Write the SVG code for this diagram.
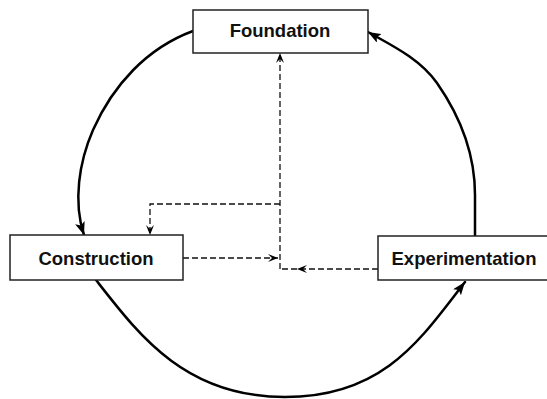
<svg xmlns="http://www.w3.org/2000/svg" width="547" height="399" viewBox="0 0 547 399">
  <style>
    .box { fill: #ffffff; stroke: #222222; stroke-width: 1.5; }
    .label { font-family: "Liberation Sans", Arial, sans-serif; font-weight: bold; font-size: 18.5px; fill: #111111; text-anchor: middle; }
    .cycle { fill: none; stroke: #000000; stroke-width: 2.5; stroke-linecap: round; }
    .dash { fill: none; stroke: #111111; stroke-width: 1.3; stroke-dasharray: 6 3; }
  </style>
  <defs>
    <marker id="solidArrow" markerUnits="userSpaceOnUse" markerWidth="14" markerHeight="10" refX="13" refY="5" orient="auto">
      <path d="M0,0 L13,5 L0,10 L3,5 z" fill="#000000"/>
    </marker>
    <marker id="dashArrow" markerUnits="userSpaceOnUse" markerWidth="11" markerHeight="9" refX="10" refY="4.5" orient="auto">
      <path d="M0,0.5 L10,4.5 L0,8.5 L4,4.5 z" fill="#000000"/>
    </marker>
  </defs>

  <g id="connectors">
    <!-- Foundation -> Construction -->
    <path class="cycle" marker-end="url(#solidArrow)" d="M193,31 C147,48 113,85 93,130 C79,162 73,202 84,235"/>
    <!-- Construction -> Experimentation -->
    <path class="cycle" marker-end="url(#solidArrow)" d="M96,280 C139,335 185,397 285,397 C385,397 422,337 465,282"/>
    <!-- Experimentation -> Foundation -->
    <path class="cycle" marker-end="url(#solidArrow)" d="M475,236 L475,195 C475,155 460,116 437,83 C420,59 393,46 368,32"/>

    <!-- dashed feedback lines -->
    <path class="dash" marker-end="url(#dashArrow)" d="M280,269 L280,53"/>
    <path class="dash" marker-end="url(#dashArrow)" d="M280,204 L150,204 L150,235"/>
    <path class="dash" marker-end="url(#dashArrow)" d="M183,258 L278,258"/>
    <path class="dash" marker-end="url(#dashArrow)" d="M378,269 L297,269"/>
    <path class="dash" d="M297,269 L280,269"/>
  </g>

  <g id="foundation">
    <rect class="box" x="193" y="10" width="175" height="43"/>
    <text class="label" x="280" y="37">Foundation</text>
  </g>
  <g id="construction">
    <rect class="box" x="10" y="235" width="173" height="45"/>
    <text class="label" x="96" y="265">Construction</text>
  </g>
  <g id="experimentation">
    <rect class="box" x="378" y="236" width="175" height="44"/>
    <text class="label" x="464" y="265">Experimentation</text>
  </g>
</svg>
